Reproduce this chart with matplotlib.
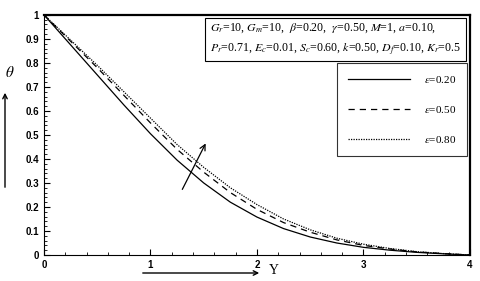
import numpy as np
import matplotlib
matplotlib.use('Agg')
import matplotlib.pyplot as plt
from matplotlib.ticker import MultipleLocator

plt.rcParams['mathtext.fontset'] = 'stix'

# velocity-ish profiles theta(Y) for three eps values
Y = [0, 0.25, 0.5, 0.75, 1.0, 1.25, 1.5, 1.75, 2.0, 2.25, 2.5, 2.75, 3.0, 3.25, 3.5, 3.75, 4.0]
theta_020 = [1, 0.875, 0.75, 0.625, 0.505, 0.395, 0.30, 0.22, 0.158, 0.11, 0.075, 0.05, 0.032, 0.02, 0.011, 0.005, 0]
theta_050 = [1, 0.89, 0.78, 0.665, 0.55, 0.44, 0.345, 0.26, 0.19, 0.135, 0.095, 0.063, 0.04, 0.025, 0.013, 0.006, 0]
theta_080 = [1, 0.895, 0.79, 0.68, 0.57, 0.46, 0.365, 0.28, 0.21, 0.15, 0.105, 0.07, 0.045, 0.027, 0.014, 0.006, 0]
labels = [r'$\varepsilon$=0.20', r'$\varepsilon$=0.50', r'$\varepsilon$=0.80']
styles = ['-', (0, (5, 4)), (0, (1, 1))]

params = (r'$G_r$=10, $G_m$=10,  $\beta$=0.20,  $\gamma$=0.50, $M$=1, $a$=0.10,' + '\n'
          r'$P_r$=0.71, $E_c$=0.01, $S_c$=0.60, $k$=0.50, $D_f$=0.10, $K_r$=0.5')


def main():
    fig = plt.figure(figsize=(4.8, 2.81), dpi=100)
    ax = fig.add_axes([0.0917, 0.0925, 0.8873, 0.8545])

    for th, lab, ls in zip([theta_020, theta_050, theta_080], labels, styles):
        ax.plot(Y, th, color='black', linestyle=ls, linewidth=0.9, label=lab)

    ax.set_xlim(0, 4)
    ax.set_ylim(0, 1)
    ax.xaxis.set_major_locator(MultipleLocator(1))
    ax.xaxis.set_minor_locator(MultipleLocator(0.2))
    ax.yaxis.set_major_locator(MultipleLocator(0.1))
    ax.yaxis.set_minor_locator(MultipleLocator(0.02))
    ax.tick_params(which='both', direction='in', labelsize=7)
    ax.tick_params(which='major', length=4)
    ax.tick_params(which='minor', length=2)
    ax.set_yticks(np.arange(0, 1.01, 0.1))
    ax.set_yticklabels(['0'] + ['%.1f' % v for v in np.arange(0.1, 0.95, 0.1)] + ['1'])
    for t in ax.get_xticklabels() + ax.get_yticklabels():
        t.set_fontweight('bold')
        t.set_family('Liberation Sans')
    for s in ['top', 'right']:
        ax.spines[s].set_linewidth(1.6)

    leg = ax.legend(loc='upper right', bbox_to_anchor=(0.993, 0.8), borderaxespad=0,
                    handlelength=5.6, labelspacing=1.7, borderpad=1.0,
                    handletextpad=1.2, fancybox=False, edgecolor='black',
                    prop={'family': 'Liberation Serif', 'size': 8})
    leg.get_frame().set_linewidth(0.8)

    ax.text(0.39, 0.971, params, transform=ax.transAxes, va='top', ha='left',
            fontsize=8.6, family='Liberation Serif', linespacing=1.5,
            bbox=dict(boxstyle='square,pad=0.4', fc='white', ec='black', lw=0.8))

    # trend arrow
    ax.annotate('', xy=(1.53, 0.475), xytext=(1.287, 0.263),
                arrowprops=dict(arrowstyle='->', color='black', lw=0.9))

    # axis labels with arrows
    fig.text(10 / 480, 1 - 73 / 281, r'$\theta$', fontsize=11, ha='center', va='center')
    fig.add_artist(matplotlib.patches.FancyArrowPatch(
        (5 / 480, 1 - 190 / 281), (5 / 480, 1 - 90 / 281), transform=fig.transFigure,
        arrowstyle='->', mutation_scale=8, color='black', lw=1))
    fig.text(274 / 480, 1 - 271 / 281, 'Y', fontsize=10, family='Liberation Serif',
             ha='center', va='center')
    fig.add_artist(matplotlib.patches.FancyArrowPatch(
        (140 / 480, 1 - 273 / 281), (262 / 480, 1 - 273 / 281), transform=fig.transFigure,
        arrowstyle='->', mutation_scale=8, color='black', lw=1))

    fig.savefig('out.png', dpi=100)


if __name__ == '__main__':
    main()
